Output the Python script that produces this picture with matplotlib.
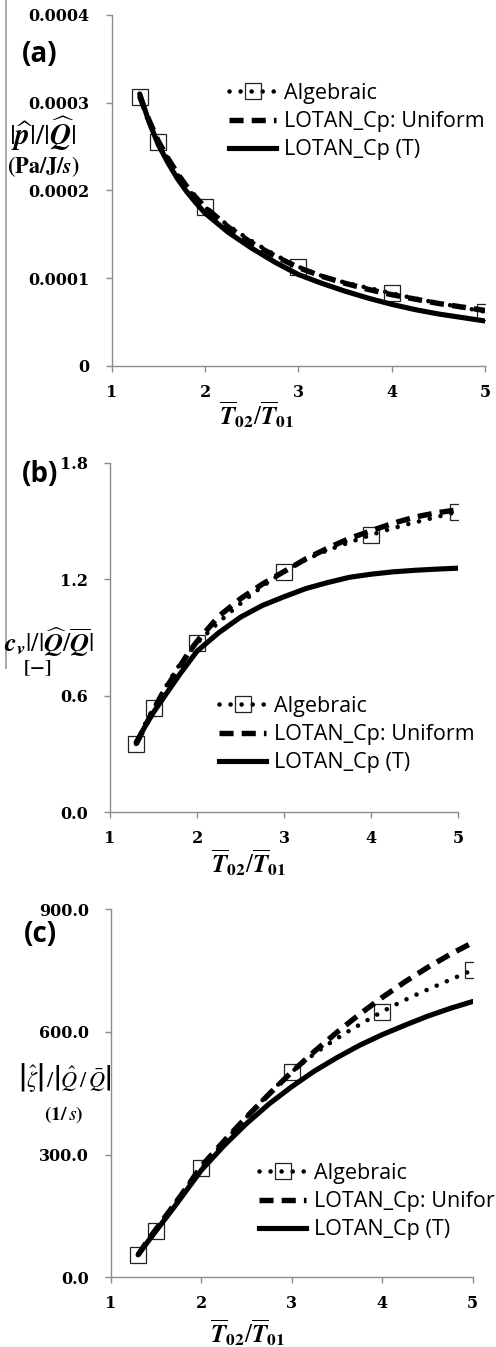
import numpy as np
import matplotlib
matplotlib.use("Agg")
import matplotlib.pyplot as plt
from matplotlib.lines import Line2D
from matplotlib.path import Path
from matplotlib.patches import PathPatch

plt.rcParams['mathtext.fontset'] = 'stix'

# --- data -------------------------------------------------------------
x_alg = [1.3, 1.5, 2, 3, 4, 5]
x_fine = [1.3, 1.4, 1.5, 1.6, 1.7, 1.8, 1.9, 2.0, 2.25, 2.5, 2.75, 3.0,
          3.25, 3.5, 3.75, 4.0, 4.25, 4.5, 4.75, 5.0]

# (a) pressure / heat release
a_alg = [0.000307, 0.000255, 0.000181, 0.000113, 0.0000826, 0.0000616]
a_uni = [0.000307, 0.000280, 0.000256, 0.000237, 0.000220, 0.000205, 0.000192,
         0.000181, 0.000158, 0.000140, 0.000125, 0.000112, 0.000102, 0.000094,
         0.000087, 0.000081, 0.000076, 0.000071, 0.000067, 0.000063]
a_cpt = [0.000310, 0.000278, 0.000252, 0.000232, 0.000214, 0.000199, 0.000186,
         0.000174, 0.000152, 0.000134, 0.000118, 0.000104, 0.000094, 0.000085,
         0.000077, 0.000070, 0.000064, 0.000059, 0.000055, 0.000051]

# (b) velocity / heat release
b_alg = [0.352, 0.535, 0.870, 1.239, 1.428, 1.548]
b_uni = [0.350, 0.440, 0.530, 0.610, 0.680, 0.750, 0.820, 0.880, 1.010, 1.100,
         1.175, 1.240, 1.305, 1.360, 1.410, 1.450, 1.488, 1.520, 1.542, 1.558]
b_cpt = [0.360, 0.440, 0.515, 0.580, 0.645, 0.710, 0.770, 0.830, 0.925, 1.005,
         1.065, 1.110, 1.152, 1.183, 1.210, 1.226, 1.238, 1.246, 1.252, 1.257]

# (c) entropy / heat release
c_alg = [55, 114, 266, 502, 649, 751]
c_uni = [55, 88, 118, 148, 178, 208, 240, 272, 333, 392, 448, 502, 552, 599,
         643, 684, 722, 757, 789, 818]
c_cpt = [55, 85, 114, 143, 172, 202, 232, 262, 322, 376, 424, 466, 504, 537,
         567, 593, 616, 638, 657, 674]

a_ticks = [0, 0.0001, 0.0002, 0.0003, 0.0004]
a_ticklabels = ['0', '0.0001', '0.0002', '0.0003', '0.0004']
b_ticks = [0.0, 0.6, 1.2, 1.8]
b_ticklabels = ['0.0', '0.6', '1.2', '1.8']
c_ticks = [0, 300, 600, 900]
c_ticklabels = ['0.0', '300.0', '600.0', '900.0']
x_ticks = [1, 2, 3, 4, 5]
x_ticklabels = ['1', '2', '3', '4', '5']

series_names = ['Algebraic', 'LOTAN_Cp: Uniform', 'LOTAN_Cp (T)']

# --- figure -----------------------------------------------------------
W, H = 496, 1347
fig = plt.figure(figsize=(W / 100, H / 100), dpi=100)


def px(x0, y0, x1, y1):
    # pixel box -> figure fraction rect
    return [x0 / W, 1 - y1 / H, (x1 - x0) / W, (y1 - y0) / H]


def fpt(x, y):
    return x / W, 1 - y / H


def smooth_path(xs, ys):
    # spreadsheet-style smoothed line: cubic Bezier through every point
    p = np.column_stack([xs, ys]).astype(float)
    verts = [p[0]]
    codes = [Path.MOVETO]
    n = len(p)
    for i in range(n - 1):
        p0 = p[max(i - 1, 0)]
        p3 = p[min(i + 2, n - 1)]
        c1 = p[i] + (p[i + 1] - p0) / 6
        c2 = p[i + 1] - (p3 - p[i]) / 6
        verts += [c1, c2, p[i + 1]]
        codes += [Path.CURVE4] * 3
    return Path(verts, codes)


tick_font = dict(family='DejaVu Serif', weight='bold', size=11.5)
gray = '#8c8c8c'
dot_style = dict(color='black', linestyle=(0, (0.01, 2.4)), lw=3.3,
                 dash_capstyle='round')
mark_style = dict(marker='s', markersize=11, markerfacecolor='none',
                  markeredgecolor='#222222', markeredgewidth=0.9)


def panel(rect, alg, uni, cpt, yticks, ylabels, leg_xy):
    ax = fig.add_axes(rect)
    ax.add_patch(PathPatch(smooth_path(x_alg, alg), fill=False,
                           edgecolor='black', linestyle=(0, (0.01, 2.4)),
                           lw=3.3, capstyle='round'))
    ax.plot(x_alg, alg, linestyle='none', **mark_style)
    ax.plot(x_fine, uni, color='black', linestyle=(0, (2.6, 1.5)), lw=3.9)
    ax.plot(x_fine, cpt, color='black', linestyle='-', lw=3.7,
            solid_capstyle='round')
    ax.set_xlim(1, 5)
    ax.set_ylim(yticks[0], yticks[-1])
    ax.set_xticks(x_ticks, x_ticklabels)
    ax.set_yticks(yticks, ylabels)
    for lab in ax.get_xticklabels() + ax.get_yticklabels():
        lab.set_fontproperties(tick_font)
    ax.spines['top'].set_visible(False)
    ax.spines['right'].set_visible(False)
    for s in ('left', 'bottom'):
        ax.spines[s].set_color(gray)
        ax.spines[s].set_linewidth(1.0)
    ax.tick_params(direction='out', length=4, width=1, color=gray,
                   labelcolor='black')
    ax.tick_params(axis='y', pad=12)
    ax.tick_params(axis='x', pad=9)
    ax.set_facecolor('none')

    handles = [Line2D([], [], **dot_style, **mark_style),
               Line2D([], [], color='black', linestyle=(0, (2.6, 1.5)), lw=3.9),
               Line2D([], [], color='black', linestyle='-', lw=3.7)]
    ax.legend(handles, series_names, loc='upper left',
              bbox_to_anchor=fpt(*leg_xy),
              bbox_transform=fig.transFigure, frameon=False,
              prop=dict(family='Open Sans', size=15.5), handlelength=2.2,
              handletextpad=0.35, labelspacing=0.33, borderpad=0,
              borderaxespad=0)
    return ax


panel(px(111.7, 15, 485, 365.7), a_alg, a_uni, a_cpt,
      a_ticks, a_ticklabels, (229, 83))
panel(px(110, 462.7, 458.3, 812.3), b_alg, b_uni, b_cpt,
      b_ticks, b_ticklabels, (219, 696))
panel(px(111, 909, 472.7, 1277.3), c_alg, c_uni, c_cpt,
      c_ticks, c_ticklabels, (259, 1163))

# panel tags
for tag, (x, y) in zip(['(a)', '(b)', '(c)'], [(40, 54), (40, 474), (40, 934)]):
    fig.text(*fpt(x, y), tag, family='Open Sans', weight='bold', size=20,
             ha='center', va='center')

# y labels
fig.text(*fpt(43, 134), r'$|\widehat{\mathbfit{p}}|/|\widehat{\mathbfit{Q}}|$',
         size=21, ha='center', va='center')
fig.text(*fpt(43, 167), r'$\mathbf{(Pa/J/}\mathbfit{s}\mathbf{)}$',
         size=16, ha='center', va='center')
fig.text(*fpt(4, 642),
         r'$\mathbfit{c_v}|/|\widehat{\mathbfit{Q}}/\overline{\mathbfit{Q}}|$',
         size=19, ha='left', va='center')
fig.text(*fpt(37, 668), r'$\mathbf{[-]}$', size=14, ha='center', va='center')
fig.text(*fpt(65, 1078), r'$\left|\hat{\zeta}\right|\,/\left|\hat{Q}\,/\,\bar{Q}\right|$',
         size=16, ha='center', va='center')
fig.text(*fpt(64, 1115), r'$\mathbf{(1/}\,\mathit{s}\mathbf{)}$',
         size=14, ha='center', va='center')

# x labels
xlab = r'$\overline{\mathbfit{T}}_{\mathbf{02}}/\overline{\mathbfit{T}}_{\mathbf{01}}$'
for x, y in [(257, 415), (249, 863), (248, 1333)]:
    fig.text(*fpt(x, y), xlab, size=18, ha='center', va='center')

# thin gray rule down the left margin
fig.add_artist(Line2D([6 / W, 6 / W], [1, 1 - 668 / H], color='#9a9a9a',
                      lw=1.2, transform=fig.transFigure))

fig.savefig('out.png', dpi=100)
